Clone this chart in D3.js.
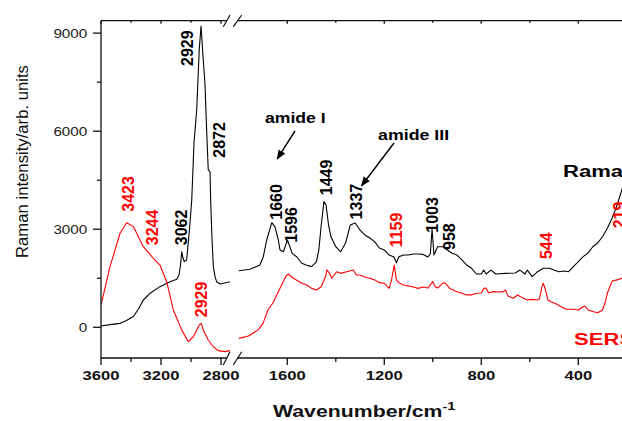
<!DOCTYPE html>
<html><head><meta charset="utf-8">
<script src="https://cdn.jsdelivr.net/npm/d3@7/dist/d3.min.js"></script>
<style>body{margin:0;background:#fff}svg{display:block}</style>
</head><body>
<script>
// ---- data ----
const ramanLeftW = [3600,3540,3473,3430,3400,3384,3350,3318,3273,3207,3140,3095,3080,3070,3062,3055,3045,3029,3010,2995,2980,2962,2945,2933,2920,2907,2895,2885,2878,2873,2869,2860,2851,2840,2829,2807,2785,2760,2740];
const ramanLeft  = [40,80,120,210,290,330,560,835,1040,1243,1395,1470,1600,1900,2310,2150,2010,2060,3000,3900,5640,6650,8500,9220,8300,7470,5940,4815,4790,4750,3900,2700,1855,1550,1395,1325,1345,1370,1395];
const sersLeftW  = [3600,3540,3473,3429,3384,3318,3251,3207,3162,3118,3062,3018,2985,2945,2933,2913,2885,2851,2818,2773,2740];
const sersLeft   = [680,1855,2877,3200,3080,2465,2110,1905,1395,530,-80,-440,-290,70,120,-135,-390,-595,-715,-745,-715];

const ramanRightW = [1800,1754,1713,1699,1685,1664,1651,1637,1630,1616,1602,1596,1580,1560,1540,1520,1500,1480,1470,1460,1449,1440,1430,1420,1400,1380,1360,1340,1320,1300,1280,1260,1240,1220,1200,1180,1160,1150,1140,1120,1100,1080,1060,1040,1020,1010,1003,995,980,958,940,920,900,880,860,840,820,800,790,780,760,740,700,660,640,620,610,590,570,544,520,500,480,460,440,420,400,380,360,340,320,300,280,260,240,220,200,180];
const ramanRight  = [1730,1775,1905,2160,2670,3200,3080,2670,2365,2310,2620,2600,2260,2150,1960,1900,1855,2000,2365,3130,3845,3740,3130,2770,2465,2310,2570,3130,3190,2975,2825,2730,2620,2425,2365,2210,2150,1970,2160,2210,2210,2240,2240,2230,2150,2250,3000,2210,2465,2465,2365,2265,2210,2060,1905,1805,1630,1630,1750,1630,1750,1630,1650,1660,1750,1630,1750,1550,1690,1805,1805,1750,1700,1720,1700,1855,2010,2160,2270,2465,2580,2770,3030,3345,3740,4200,4815,5430];
const sersRightW = [1800,1760,1720,1700,1680,1660,1640,1620,1606,1596,1575,1540,1520,1500,1480,1460,1440,1437,1425,1417,1396,1380,1355,1328,1315,1300,1280,1260,1240,1220,1200,1180,1170,1159,1150,1140,1120,1100,1080,1060,1040,1020,1010,1000,990,980,960,950,930,900,880,860,840,820,800,790,780,770,750,730,710,700,690,670,650,630,610,590,570,560,550,544,535,525,510,490,470,450,420,400,380,372,360,340,320,300,290,280,270,260,240,220,200];
const sersRight  = [-340,-265,-80,120,530,735,1040,1345,1560,1630,1500,1345,1295,1190,1140,1240,1600,1755,1650,1500,1700,1650,1700,1755,1600,1600,1540,1500,1450,1365,1345,1190,1450,1905,1450,1365,1295,1265,1235,1190,1235,1200,1300,1395,1240,1200,1345,1355,1190,1090,1040,990,990,1040,1050,1190,1200,1050,1090,1080,1090,1140,960,890,990,900,835,855,835,865,1240,1345,1140,835,775,715,630,550,550,530,630,650,530,480,445,530,735,1040,1240,1415,1450,1500,1400];

const yTicks = [0,3000,6000,9000];
const yMinor = [1500,4500,7500];
const xLeftTicks = [3600,3200,2800];
const xLeftMinor = [3400,3000];
const xRightTicks = [1600,1200,800,400];
const xRightMinor = [1400,1000,600,200];

const peaks = [
  {t:"3423", w:3423, s:"L", c:"red",   v:4080, dx:6},
  {t:"3244", w:3244, s:"L", c:"red",   v:3055, dx:4},
  {t:"3062", w:3062, s:"L", c:"black", v:3055, dx:5.3},
  {t:"2929", w:2929, s:"L", c:"black", v:8540, dx:-8.3},
  {t:"2872", w:2872, s:"L", c:"black", v:5733, dx:14.8},
  {t:"2929", w:2929, s:"L", c:"red",   v:851,  dx:5},
  {t:"1660", w:1660, s:"R", c:"black", v:3835, dx:9.2},
  {t:"1596", w:1596, s:"R", c:"black", v:3131, dx:8.7},
  {t:"1449", w:1449, s:"R", c:"black", v:4585, dx:8.1},
  {t:"1337", w:1337, s:"R", c:"black", v:3845, dx:11.4},
  {t:"1159", w:1159, s:"R", c:"red",   v:2978, dx:7.7},
  {t:"1003", w:1003, s:"R", c:"black", v:3437, dx:6},
  {t:"958",  w:958,  s:"R", c:"black", v:2773, dx:12},
  {t:"544",  w:544,  s:"R", c:"red",   v:2495, dx:8.6},
  {t:"219",  w:219,  s:"R", c:"red",   v:3437, dx:3}
];

// ---- layout ----
const W = 622, H = 421;
const FONT = "'Liberation Sans', Arial, Helvetica, sans-serif";
const pTop = 20.7, pBottom = 358, pLeft = 101;
const y = d3.scaleLinear().domain([-940, 9380]).range([pBottom, pTop]);
const xL = d3.scaleLinear().domain([3600, 2740]).range([pLeft, 230]);
const xR = d3.scaleLinear().domain([1800, 100]).range([238.8, 651]);

const svg = d3.select("body").append("svg").attr("width", W).attr("height", H)
  .style("font-family", FONT);
svg.append("rect").attr("width", W).attr("height", H).attr("fill", "#fff");

function txt(parent, x, yy, str, o) {
  const g = parent.append("g").attr("transform",
    `translate(${x},${yy}) scale(${o.sx || 1},1)` + (o.rot ? ` rotate(${o.rot})` : ""));
  const t = g.append("text").attr("text-anchor", o.anchor || "start")
    .attr("font-size", o.size).attr("font-weight", o.weight || "normal")
    .attr("fill", o.fill || "#000").attr("dy", o.dy || 0).text(str);
  return t;
}

// ---- spectra ----
svg.append("clipPath").attr("id", "pc").append("rect")
  .attr("x", pLeft).attr("y", pTop).attr("width", 600).attr("height", pBottom - pTop);
const plot = svg.append("g").attr("clip-path", "url(#pc)");
function drawLine(ws, vs, xs, color) {
  const line = d3.line().x((d, i) => xs(ws[i])).y(d => y(d));
  plot.append("path").datum(vs).attr("d", line).attr("fill", "none")
    .attr("stroke", color).attr("stroke-width", 1.1).attr("stroke-linejoin", "round");
}
drawLine(ramanLeftW, ramanLeft, xL, "#000");
drawLine(sersLeftW, sersLeft, xL, "#ff0000");
drawLine(ramanRightW, ramanRight, xR, "#000");
drawLine(sersRightW, sersRight, xR, "#ff0000");

// ---- axes ----
const ax = svg.append("g").attr("stroke", "#111").attr("stroke-width", 1.3).attr("fill", "none");
const gapA = 227, gapB = 237;
ax.append("line").attr("x1", pLeft).attr("x2", pLeft).attr("y1", pTop).attr("y2", pBottom);
ax.append("line").attr("x1", pLeft).attr("x2", gapA).attr("y1", pBottom).attr("y2", pBottom);
ax.append("line").attr("x1", gapB).attr("x2", W + 10).attr("y1", pBottom).attr("y2", pBottom);
ax.append("line").attr("x1", pLeft).attr("x2", gapA).attr("y1", pTop).attr("y2", pTop);
ax.append("line").attr("x1", gapB).attr("x2", W + 10).attr("y1", pTop).attr("y2", pTop);
[[223.3, 230], [233.3, 241.7]].forEach(([a, b]) => {
  ax.append("line").attr("x1", a).attr("y1", pBottom + 7).attr("x2", b).attr("y2", pBottom - 6.3).attr("stroke-width", 1.2);
  ax.append("line").attr("x1", a).attr("y1", pTop + 6).attr("x2", b).attr("y2", pTop - 5.7).attr("stroke-width", 1.2);
});
yTicks.forEach(v => ax.append("line").attr("x1", pLeft - 8).attr("x2", pLeft).attr("y1", y(v)).attr("y2", y(v)));
yMinor.forEach(v => ax.append("line").attr("x1", pLeft - 4).attr("x2", pLeft).attr("y1", y(v)).attr("y2", y(v)));
function xt(xs, vals, len, tl) {
  vals.forEach(v => {
    const px = xs(v);
    if (px > W + 5) return;
    ax.append("line").attr("x1", px).attr("x2", px).attr("y1", pBottom).attr("y2", pBottom + len);
    ax.append("line").attr("x1", px).attr("x2", px).attr("y1", pTop).attr("y2", pTop + tl);
  });
}
xt(xL, xLeftTicks, 7, 3); xt(xL, xLeftMinor, 4, 2);
xt(xR, xRightTicks, 7, 3); xt(xR, xRightMinor, 4, 2);

yTicks.forEach(v => txt(svg, 87.3, y(v), String(v), {size: 12.5, sx: 1.22, anchor: "end", dy: "0.36em", fill: "#222"}));
xLeftTicks.forEach(v => txt(svg, xL(v), 380.3, String(v), {size: 12.5, weight: "bold", sx: 1.33, anchor: "middle", fill: "#111"}));
xRightTicks.forEach(v => txt(svg, xR(v), 380.3, String(v), {size: 12.5, weight: "bold", sx: 1.33, anchor: "middle", fill: "#111"}));

txt(svg, 27.5, 161.5, "Raman intensity/arb. units", {size: 16.7, rot: -90, anchor: "middle", fill: "#111"});
const xt2 = txt(svg, 273, 417, "Wavenumber/cm", {size: 16, weight: "bold", sx: 1.33, fill: "#111"});
xt2.append("tspan").attr("font-size", 11).attr("dy", -7).text("-1");

peaks.forEach(p => {
  const xs = p.s === "L" ? xL : xR;
  txt(svg, xs(p.w) + p.dx, y(p.v), p.t, {size: 16, weight: "bold", rot: -90, anchor: "middle", fill: p.c === "red" ? "#ff0000" : "#000"});
});

txt(svg, 265, 123, "amide I", {size: 14, weight: "bold", sx: 1.26});
txt(svg, 378, 140, "amide III", {size: 14, weight: "bold", sx: 1.27});
txt(svg, 563, 177, "Raman", {size: 17, weight: "bold", sx: 1.3});
txt(svg, 574, 345, "SERS", {size: 17, weight: "bold", sx: 1.3, fill: "#ff0000"});

const defs = svg.append("defs");
defs.append("marker").attr("id", "ah").attr("viewBox", "0 0 10 10").attr("refX", 9).attr("refY", 5)
  .attr("markerWidth", 7).attr("markerHeight", 7).attr("orient", "auto-start-reverse")
  .append("path").attr("d", "M0,1 L10,5 L0,9 Z").attr("fill", "#000");
function arrow(x1, y1, x2, y2) {
  svg.append("line").attr("x1", x1).attr("y1", y1).attr("x2", x2).attr("y2", y2)
    .attr("stroke", "#000").attr("stroke-width", 1.4).attr("marker-end", "url(#ah)");
}
arrow(295, 131, xR(1660) + 4.5, y(5150));
arrow(394, 143, xR(1337) + 10.5, y(4330));
</script>
</body></html>
